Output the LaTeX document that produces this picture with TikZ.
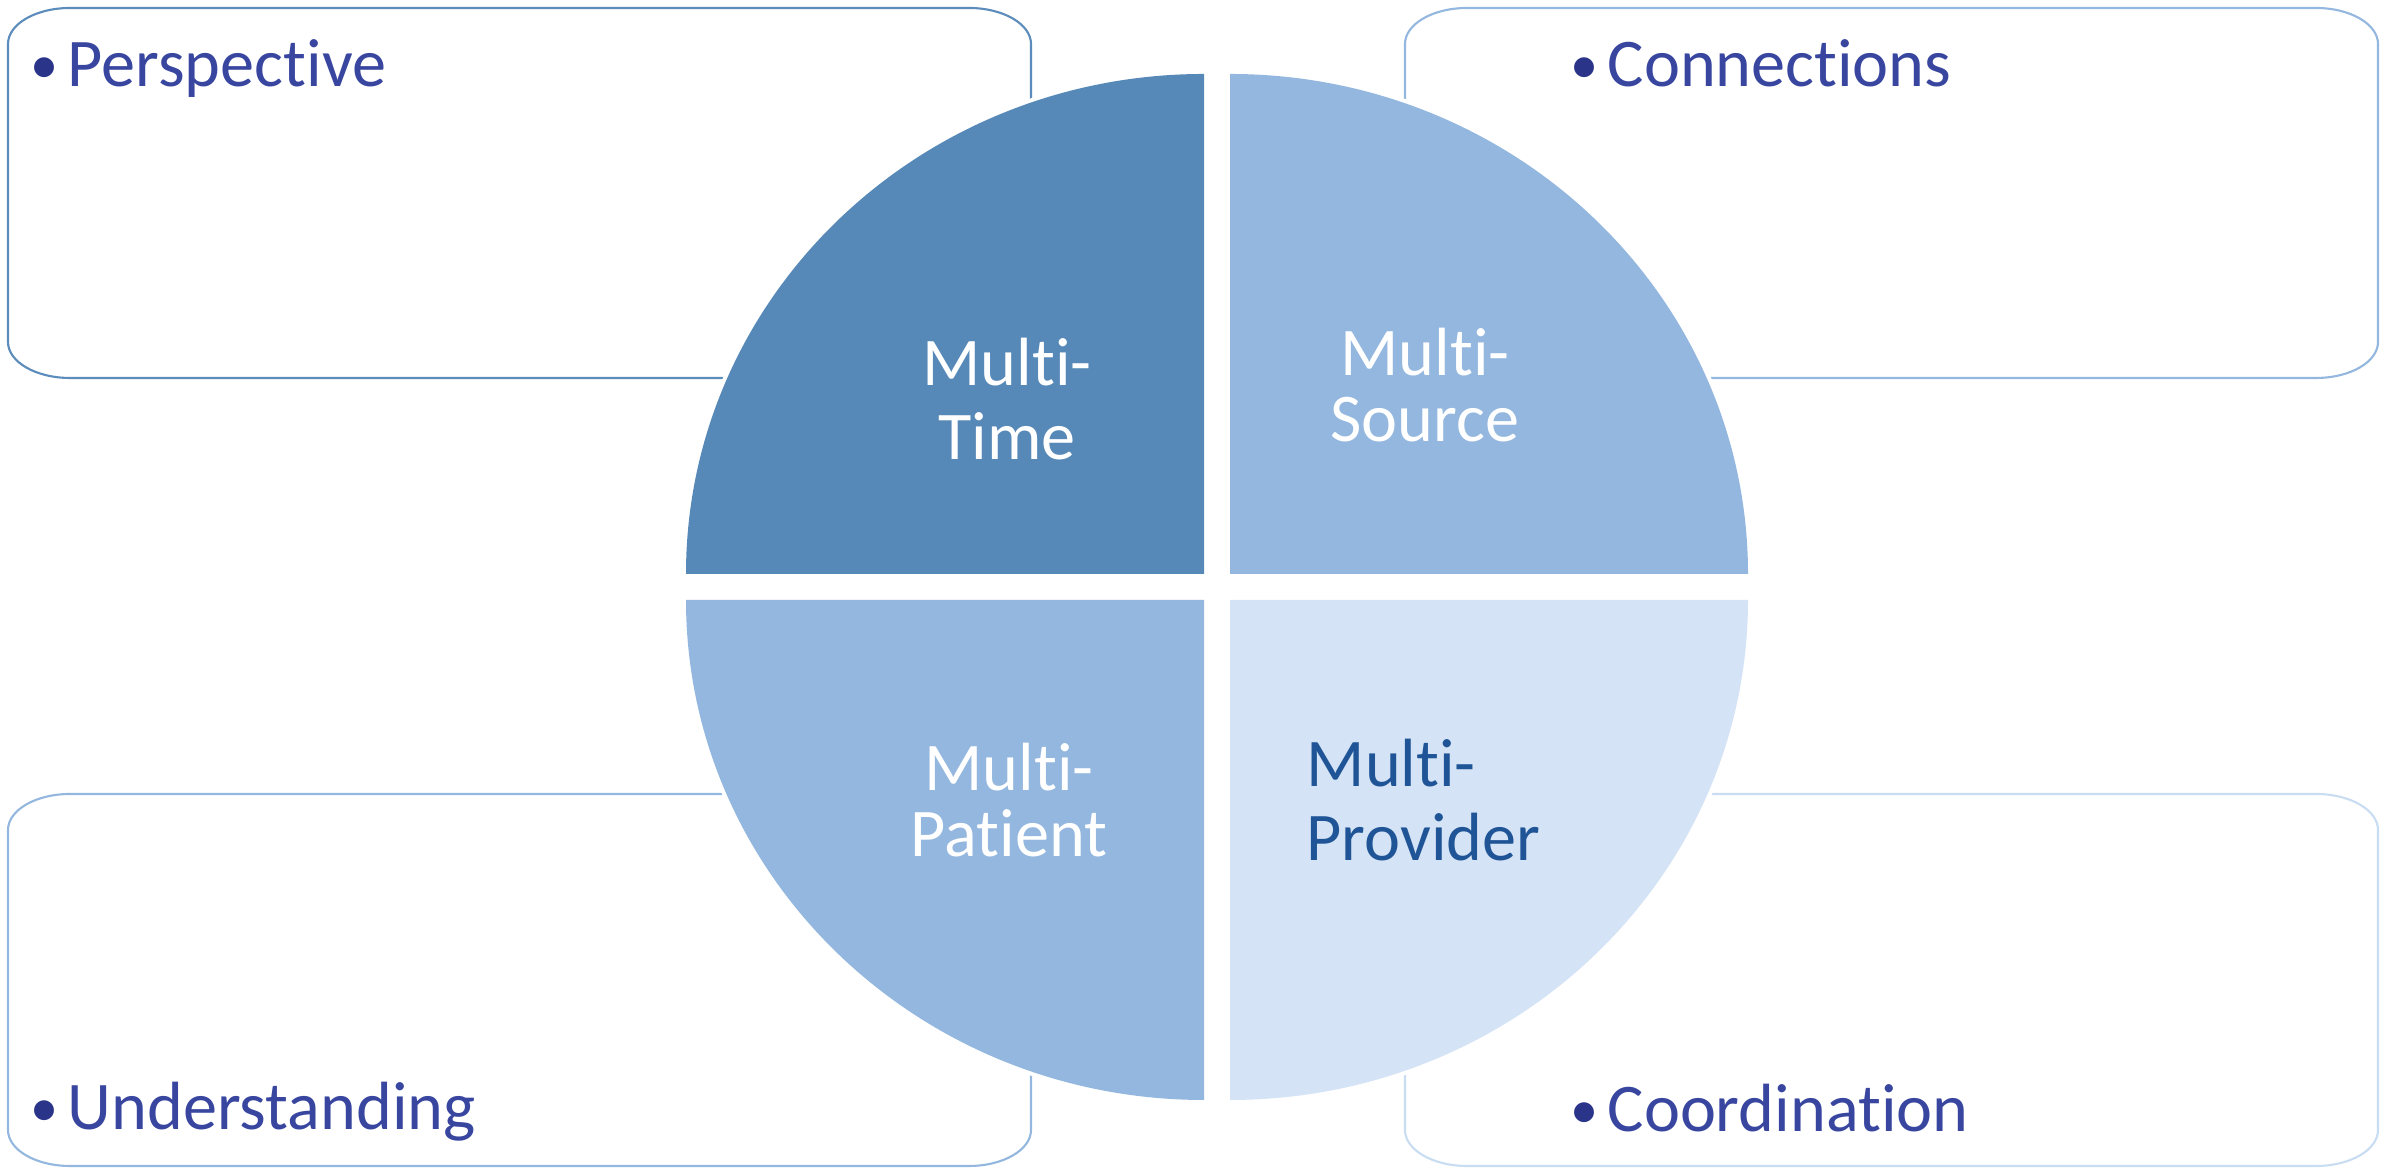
\documentclass[tikz,border=0pt]{standalone}
\usepackage{fontspec}
\setmainfont{Carlito}[Ligatures=NoCommon]
\usetikzlibrary{positioning}

\definecolor{timeblue}{HTML}{5789B8}
\definecolor{midblue}{HTML}{93B7DE}
\definecolor{paleblue}{HTML}{D4E3F5}
\definecolor{edgedark}{HTML}{5B8CBB}
\definecolor{edgemid}{HTML}{93B7DE}
\definecolor{edgepale}{HTML}{C8DCF2}
\definecolor{itemblue}{HTML}{3846A0}
\definecolor{bulletblue}{HTML}{2A3589}
\definecolor{providerblue}{HTML}{1F5596}

% box with flat rounded corners: left, bottom, right, top, colour
\newcommand{\sidebox}[5]{%
  \draw[boxline, draw=#5] (#1+62,#2) -- (#3-62,#2)
    arc[start angle=-90, end angle=0, x radius=62, y radius=36] -- (#3,#4-36)
    arc[start angle=0, end angle=90, x radius=62, y radius=36] -- (#1+62,#4)
    arc[start angle=90, end angle=180, x radius=62, y radius=36] -- (#1,#2+36)
    arc[start angle=180, end angle=270, x radius=62, y radius=36] -- cycle;}
\newcommand{\itembullet}{\llap{\raisebox{1.1pt}{\textcolor{bulletblue}{%
  \fontsize{16pt}{16pt}\selectfont •}}\kern2.5pt}}

\begin{document}
\begin{tikzpicture}[x=0.01cm, y=0.01cm,
    boxline/.style={line width=0.6pt},
    boxtext/.style={inner sep=0pt, anchor=base west, text=itemblue,
      font=\fontsize{19.4pt}{21pt}\selectfont},
    quad/.style={preaction={draw=white, line width=2.3pt}},
    quadtext/.style={inner sep=0pt, align=center, text=white,
      font=\fontsize{19.4pt}{21pt}\selectfont}]
  \useasboundingbox (0,0) rectangle (2381,1168);

  % outer boxes
  \sidebox{8}{790}{1031}{1160}{edgedark}
  \sidebox{1405}{790}{2378}{1160}{edgemid}
  \sidebox{8}{2}{1031}{374}{edgemid}
  \sidebox{1405}{2}{2378}{374}{edgepale}

  \node[boxtext] (persp) at (67,1081) {\itembullet Perspective};
  \node[boxtext] (conn) at (1607,1081) {\itembullet Connections};
  \node[boxtext] (under) at (67,38) {\itembullet Understanding};
  \node[boxtext] (coord) at (1607,36) {\itembullet Coordination};

  % quarters of the ellipse
  \fill[quad, timeblue] (1204,594) -- (686,594)
    arc[start angle=180, end angle=90, x radius=518, y radius=500] -- cycle;
  \fill[quad, midblue] (1230,594) -- (1230,1094)
    arc[start angle=90, end angle=0, x radius=518, y radius=500] -- cycle;
  \fill[quad, midblue] (1204,568) -- (1204,68)
    arc[start angle=270, end angle=180, x radius=518, y radius=500] -- cycle;
  \fill[quad, paleblue] (1230,568) -- (1748,568)
    arc[start angle=0, end angle=-90, x radius=518, y radius=500] -- cycle;

  \node[quadtext] (time) at (1007,769) {Multi-\\Time};
  \node[quadtext, font=\fontsize{19.4pt}{18.6pt}\selectfont] (source)
    at (1425,783) {Multi-\\Source};
  \node[quadtext, font=\fontsize{19.4pt}{18.6pt}\selectfont] (patient)
    at (1009,368) {Multi-\\Patient};
  \node[quadtext, align=left, anchor=west, text=providerblue] (provider)
    at (1306,368) {Multi-\\Provider};
\end{tikzpicture}
\end{document}
